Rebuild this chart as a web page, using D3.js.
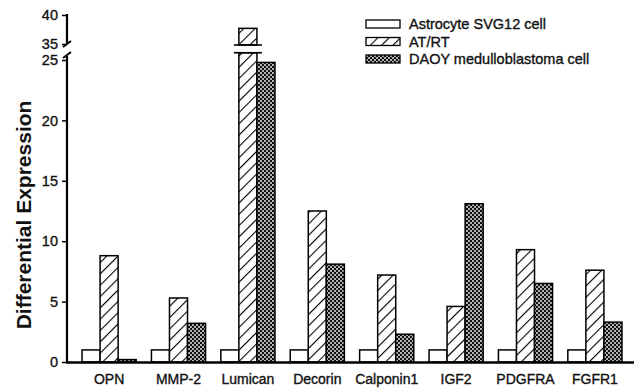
<!DOCTYPE html>
<html>
<head>
<meta charset="utf-8">
<script src="https://cdn.jsdelivr.net/npm/d3@7"></script>
<style>
  body { margin: 0; background: #fff; }
  svg text { font-family: "Liberation Sans", Arial, sans-serif; fill: #111; stroke: #111; stroke-width: 0.35px; }
</style>
</head>
<body>
<svg id="chart" width="634" height="389"></svg>
<script>
const categories = ['OPN', 'MMP-2', 'Lumican', 'Decorin', 'Calponin1', 'IGF2', 'PDGFRA', 'FGFR1'];
const astrocyte = [1, 1, 1, 1, 1, 1, 1, 1];
const atrt = [8.8, 5.3, 37.7, 12.5, 7.2, 4.6, 9.3, 7.6];
const daoy = [0.2, 3.2, 24.8, 8.1, 2.3, 13.1, 6.5, 3.3];
const seriesNames = ['Astrocyte SVG12 cell', 'AT/RT', 'DAOY medulloblastoma cell'];
const lowTicks = [0, 5, 10, 15, 20, 25];
const highTicks = [35, 40];

const svg = d3.select('#chart');
const axisX = 67, baseY = 362;

// patterns
const defs = svg.append('defs');
const hatch = defs.append('pattern')
  .attr('id', 'hatch').attr('patternUnits', 'userSpaceOnUse')
  .attr('width', 8).attr('height', 8)
  .attr('patternTransform', 'rotate(45)');
hatch.append('rect').attr('width', 8).attr('height', 8).attr('fill', '#fff');
hatch.append('line').attr('x1', 0).attr('y1', 0).attr('x2', 0).attr('y2', 8)
  .attr('stroke', '#000').attr('stroke-width', 2.2);

const dots = defs.append('pattern')
  .attr('id', 'dots').attr('patternUnits', 'userSpaceOnUse')
  .attr('width', 4).attr('height', 4);
dots.append('rect').attr('width', 4).attr('height', 4).attr('fill', '#111');
dots.append('circle').attr('cx', 1).attr('cy', 1).attr('r', 0.9).attr('fill', '#fff');
dots.append('circle').attr('cx', 3).attr('cy', 3).attr('r', 0.9).attr('fill', '#fff');

const fills = ['#fff', 'url(#hatch)', 'url(#dots)'];

const x = d3.scaleBand().domain(categories).range([74.4, 629.6])
  .paddingInner(0.22).paddingOuter(0.11);
const xs = d3.scaleBand().domain([0, 1, 2]).range([0, x.bandwidth()]);
const yLow = d3.scaleLinear().domain([0, 25]).range([baseY, 60]);
const yHigh = d3.scaleLinear().domain([35, 40]).range([44, 15]);
const lowCap = 25.6;

const rows = categories.map((c, i) => [astrocyte[i], atrt[i], daoy[i]]);

const g = svg.append('g');
categories.forEach((c, i) => {
  rows[i].forEach((v, k) => {
    const bx = x(c) + xs(k), bw = xs.bandwidth();
    if (v <= lowCap) {
      g.append('rect').attr('x', bx).attr('y', yLow(v))
        .attr('width', bw).attr('height', baseY - yLow(v))
        .attr('fill', fills[k]).attr('stroke', '#000').attr('stroke-width', 1.5);
    } else {
      // broken bar
      g.append('rect').attr('x', bx).attr('y', yLow(lowCap))
        .attr('width', bw).attr('height', baseY - yLow(lowCap))
        .attr('fill', fills[k]).attr('stroke', '#000').attr('stroke-width', 1.5);
      g.append('rect').attr('x', bx).attr('y', yHigh(v))
        .attr('width', bw).attr('height', yHigh(35) - yHigh(v) + 1)
        .attr('fill', fills[k]).attr('stroke', '#000').attr('stroke-width', 1.5);
      [yHigh(35) + 1, yLow(lowCap)].forEach(yy => {
        g.append('line').attr('x1', bx - 5).attr('x2', bx + bw + 5)
          .attr('y1', yy).attr('y2', yy)
          .attr('stroke', '#000').attr('stroke-width', 1.6);
      });
    }
  });
});

// x axis line
svg.append('line').attr('x1', axisX - 1).attr('x2', 634)
  .attr('y1', baseY + 0.5).attr('y2', baseY + 0.5)
  .attr('stroke', '#000').attr('stroke-width', 2.5);

// x labels
svg.append('g').selectAll('text').data(categories).join('text')
  .attr('x', d => x(d) + x.bandwidth() / 2)
  .attr('y', 384)
  .attr('text-anchor', 'middle')
  .attr('font-size', 14)
  .text(d => d);

// y axis, two segments
const fmt = d3.format('d');
const yAxisLow = d3.axisLeft(yLow).tickValues(lowTicks).tickFormat(fmt).tickSize(5).tickPadding(4);
const gl = svg.append('g').attr('transform', `translate(${axisX},0)`).call(yAxisLow);
const yAxisHigh = d3.axisLeft(yHigh).tickValues(highTicks).tickFormat(fmt).tickSize(5).tickPadding(4);
const gh = svg.append('g').attr('transform', `translate(${axisX},0)`).call(yAxisHigh);
[gl, gh].forEach(a => {
  a.select('.domain').remove();
  a.selectAll('.tick line').attr('stroke', '#000').attr('stroke-width', 1.5);
  a.selectAll('.tick text').attr('font-size', 14.5).attr('fill', '#111')
    .attr('font-family', '"Liberation Sans", Arial, sans-serif');
});
svg.append('line').attr('x1', axisX).attr('x2', axisX)
  .attr('y1', 56).attr('y2', baseY + 1)
  .attr('stroke', '#000').attr('stroke-width', 2.2);
svg.append('line').attr('x1', axisX).attr('x2', axisX)
  .attr('y1', yHigh(40) - 1).attr('y2', 44)
  .attr('stroke', '#000').attr('stroke-width', 2.2);
// break marks
[[47, 41], [58, 52]].forEach(([y1, y2]) => {
  svg.append('line').attr('x1', axisX - 4).attr('x2', axisX + 4)
    .attr('y1', y1).attr('y2', y2)
    .attr('stroke', '#000').attr('stroke-width', 2);
});

// y label
svg.append('text')
  .attr('transform', 'translate(31,215) rotate(-90)')
  .attr('text-anchor', 'middle')
  .attr('font-size', 21).attr('font-weight', 'bold')
  .style('stroke-width', '0px')
  .text('Differential Expression');

// legend
const lg = svg.append('g').attr('transform', 'translate(366,20)');
seriesNames.forEach((n, k) => {
  const row = lg.append('g').attr('transform', `translate(0,${k * 17.5})`);
  row.append('rect').attr('x', 0).attr('y', 0).attr('width', 34).attr('height', 8)
    .attr('fill', fills[k]).attr('stroke', '#000').attr('stroke-width', 1.3);
  row.append('text').attr('x', 43).attr('y', 9).attr('font-size', 14.5).text(n);
});
</script>
</body>
</html>
